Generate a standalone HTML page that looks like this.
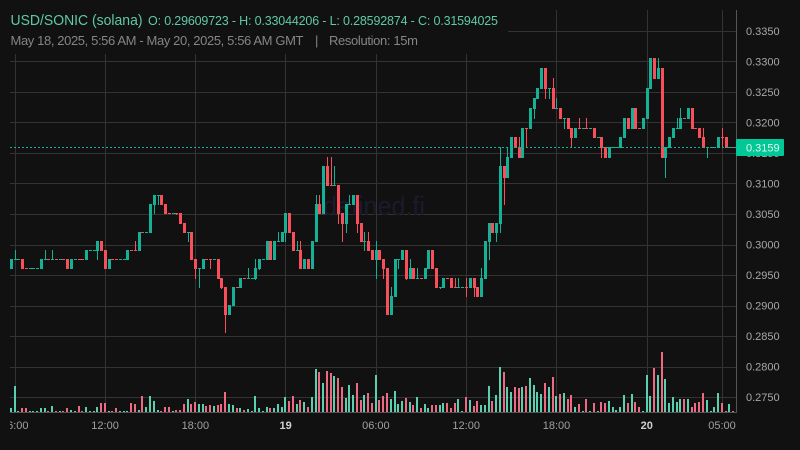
<!DOCTYPE html>
<html>
<head>
<meta charset="utf-8">
<title>USD/SONIC chart</title>
<style>
html,body{margin:0;padding:0;background:#111;width:800px;height:450px;overflow:hidden}
svg{display:block}
text{font-family:"Liberation Sans","Noto Sans CJK JP",sans-serif}
</style>
</head>
<body>
<svg id="chart" width="800" height="450" viewBox="0 0 800 450" xmlns="http://www.w3.org/2000/svg">
<defs><clipPath id="plotClip"><rect x="10" y="0" width="727" height="450"/></clipPath></defs>
<rect x="0" y="0" width="800" height="450" fill="#111111"/>
<g id="grid"></g>
<text x="323" y="215" font-size="27" fill="#1c1b2e" textLength="102" lengthAdjust="spacingAndGlyphs">defined.fi</text>
<g id="volumeBars"></g>
<g id="candles"></g>
<g id="priceLine"></g>
<rect x="0" y="0" width="508" height="54" fill="#111111"/>
<text x="10.5" y="25" font-size="15" fill="#5fc9a9" textLength="132" lengthAdjust="spacingAndGlyphs">USD/SONIC (solana)</text>
<text x="148" y="25" font-size="12.5" fill="#5fc9a9" textLength="350" lengthAdjust="spacing">O: 0.29609723 - H: 0.33044206 - L: 0.28592874 - C: 0.31594025</text>
<text x="10.5" y="45" font-size="13" fill="#858585" textLength="293" lengthAdjust="spacing">May 18, 2025, 5:56 AM - May 20, 2025, 5:56 AM GMT</text>
<text x="315" y="45" font-size="13" fill="#858585">|</text>
<text x="329" y="45" font-size="13" fill="#858585" textLength="89" lengthAdjust="spacing">Resolution: 15m</text>
<g id="yAxis"></g>
<g id="xAxis" clip-path="url(#plotClip)"></g>
<g id="priceTag"></g>
</svg>
<script>
const priceTicks = [0.335,0.33,0.325,0.32,0.315,0.31,0.305,0.3,0.295,0.29,0.285,0.28,0.275];
const timeTickLabels = ["06:00","12:00","18:00","19","06:00","12:00","18:00","20","05:00"];
const timeTickCandles = [1,25,49,73,97,121,145,169,189];
const timeTickBold = [false,false,false,true,false,false,false,true,false];
const lastPrice = 0.31594;
const opens = [.29616,.29764,.29764,.29764,.29616,.29616,.29616,.29616,.29616,.29764,
.29764,.29764,.29764,.29764,.29764,.29764,.29616,.29764,.29764,.29764,
.29764,.29912,.29912,.29912,.30059,.29912,.29616,.29764,.29764,.29764,
.29764,.29764,.29912,.29912,.29912,.30206,.30206,.30206,.30664,.30811,
.30811,.30664,.30517,.30517,.30517,.30517,.30353,.30206,.30206,.29764,
.29616,.29616,.29764,.29764,.29764,.29764,.29453,.29305,.28864,.29011,
.29305,.29305,.29453,.29453,.29453,.29453,.29616,.29764,.29764,.30059,
.29764,.30059,.30059,.30206,.30517,.30206,.29912,.29912,.29616,.29764,
.29616,.30059,.30664,.30517,.31286,.30975,.30975,.30975,.30517,.30353,
.30664,.30664,.30811,.30353,.30059,.30059,.29912,.29764,.29912,.29764,
.29616,.28864,.29158,.29764,.29764,.29912,.29453,.29616,.29453,.29453,
.29453,.29616,.29912,.29616,.29305,.29305,.29453,.29453,.29305,.29305,
.29305,.29305,.29305,.29453,.29305,.29158,.29453,.30059,.30353,.30206,
.30353,.31286,.31106,.31434,.31761,.31597,.31434,.31908,.31908,.32236,
.32399,.32563,.32890,.32563,.32563,.32236,.32236,.32072,.32072,.31908,
.31761,.31908,.31908,.31908,.31908,.31908,.31761,.31761,.31597,.31434,
.31597,.31597,.31597,.31761,.32072,.31908,.32236,.31908,.31908,.32072,
.32563,.33054,.32727,.32890,.31434,.31597,.31761,.31908,.31908,.32072,
.32072,.32236,.31908,.31908,.31761,.31597,.31597,.31597,.31597,.31761,
.31761,.31597,.31597];
const closes = [.29764,.29764,.29764,.29616,.29615,.29616,.29616,.29616,.29764,.29764,
.29763,.29764,.29763,.29764,.29763,.29616,.29764,.29764,.29763,.29763,
.29912,.29912,.29912,.30059,.29912,.29616,.29764,.29763,.29763,.29764,
.29764,.29912,.29911,.29911,.30206,.30205,.30206,.30664,.30811,.30811,
.30664,.30517,.30516,.30517,.30516,.30353,.30206,.30206,.29764,.29616,
.29616,.29764,.29763,.29763,.29764,.29453,.29305,.28864,.29011,.29305,
.29304,.29453,.29452,.29453,.29453,.29616,.29764,.29764,.30059,.29764,
.30059,.30059,.30206,.30517,.30206,.29912,.29912,.29616,.29764,.29616,
.30059,.30664,.30517,.31286,.30975,.30974,.30975,.30517,.30353,.30664,
.30664,.30811,.30353,.30059,.30059,.29912,.29764,.29912,.29764,.29616,
.28864,.29158,.29764,.29764,.29912,.29453,.29616,.29453,.29453,.29452,
.29616,.29912,.29616,.29305,.29305,.29453,.29452,.29305,.29304,.29305,
.29305,.29304,.29453,.29305,.29158,.29453,.30059,.30353,.30206,.30353,
.31286,.31106,.31434,.31761,.31597,.31434,.31908,.31907,.32236,.32399,
.32563,.32890,.32563,.32563,.32236,.32236,.32072,.32072,.31908,.31761,
.31908,.31907,.31908,.31907,.31908,.31761,.31761,.31597,.31434,.31597,
.31597,.31597,.31761,.32072,.31908,.32236,.31908,.31907,.32072,.32563,
.33054,.32727,.32890,.31434,.31597,.31761,.31908,.31908,.32072,.32071,
.32236,.31908,.31907,.31761,.31597,.31597,.31597,.31597,.31761,.31760,
.31597,.31597,.31594];
const highs = [.29764,.29912,.29764,.29764,.29616,.29616,.29616,.29616,.29764,.29912,
.29764,.29912,.29764,.29764,.29764,.29764,.29764,.29764,.29764,.29764,
.29912,.29912,.29912,.30059,.30059,.29912,.29764,.29764,.29764,.29764,
.29764,.29912,.29912,.30059,.30206,.30206,.30206,.30664,.30811,.30811,
.30811,.30664,.30517,.30517,.30517,.30517,.30353,.30206,.30206,.29764,
.29616,.29764,.29764,.29764,.29764,.29764,.29453,.29305,.29011,.29305,
.29305,.29453,.29453,.29616,.29453,.29764,.29764,.29764,.30059,.30059,
.30059,.30206,.30206,.30517,.30517,.30206,.30059,.30059,.29764,.29764,
.30059,.30811,.30811,.31286,.31434,.31434,.31286,.30975,.30517,.30664,
.30811,.30811,.30811,.30353,.30206,.30206,.29912,.30059,.29912,.29764,
.29616,.29305,.29764,.29764,.29912,.29912,.29764,.29616,.29616,.29453,
.29616,.29912,.29912,.29616,.29305,.29453,.29453,.29453,.29453,.29453,
.29305,.29453,.29453,.29453,.29305,.29616,.30059,.30353,.30353,.30353,
.31597,.31286,.31597,.31761,.31761,.31761,.31908,.31908,.32236,.32399,
.32563,.32890,.32890,.32563,.32727,.32399,.32236,.32072,.32072,.31908,
.31908,.32072,.31908,.32072,.31908,.31908,.31761,.31761,.31597,.31597,
.31597,.31597,.31761,.32072,.32072,.32236,.32236,.31908,.32072,.32563,
.33054,.33054,.33054,.32890,.31597,.31761,.31908,.32072,.32236,.32072,
.32236,.32236,.31908,.31908,.31908,.31597,.31597,.31597,.31761,.31908,
.31761,.31597,.31597];
const lows = [.29616,.29764,.29764,.29616,.29615,.29616,.29616,.29616,.29616,.29764,
.29763,.29764,.29763,.29764,.29763,.29616,.29616,.29764,.29763,.29763,
.29764,.29912,.29912,.29764,.29912,.29616,.29616,.29763,.29763,.29764,
.29764,.29764,.29911,.29911,.29912,.30205,.30206,.30206,.30517,.30664,
.30664,.30517,.30516,.30517,.30500,.30353,.30206,.30059,.29764,.29453,
.29305,.29616,.29763,.29616,.29764,.29453,.29290,.28569,.28864,.29011,
.29304,.29305,.29452,.29453,.29453,.29440,.29600,.29764,.29764,.29764,
.29764,.30059,.30059,.30059,.30206,.29912,.29912,.29616,.29616,.29616,
.29616,.30059,.30517,.30517,.30975,.30974,.30975,.30353,.30059,.30206,
.30664,.30664,.30206,.30059,.29912,.29912,.29764,.29453,.29764,.29453,
.28864,.28864,.29158,.29616,.29764,.29440,.29453,.29453,.29453,.29452,
.29453,.29616,.29616,.29305,.29290,.29305,.29452,.29305,.29304,.29305,
.29305,.29158,.29305,.29158,.29158,.29158,.29453,.29764,.30206,.30059,
.30206,.30664,.31106,.31434,.31597,.31434,.31434,.31597,.31908,.32072,
.32399,.32563,.32399,.32399,.32236,.32236,.32072,.31908,.31908,.31597,
.31761,.31907,.31908,.31907,.31908,.31761,.31761,.31434,.31434,.31434,
.31597,.31597,.31597,.31761,.31908,.31908,.31908,.31907,.31908,.32072,
.32563,.32727,.32727,.31434,.31106,.31597,.31761,.31908,.31908,.32071,
.32072,.31908,.31907,.31761,.31597,.31434,.31597,.31597,.31597,.31597,
.31597,.31597,.31594];
const volumes = [4,26,1,4,4,1,1,1,4,4,
1,6,1,1,1,4,2,1,6,1,
5,1,1,5,9,9,1,1,4,1,
1,1,9,8,2,16,5,16,11,2,
1,5,5,1,2,2,8,13,8,10,
8,8,6,7,6,7,8,20,8,7,
4,4,2,3,1,16,4,1,5,4,
4,8,5,15,11,16,8,12,10,5,
15,43,40,29,41,39,36,34,25,14,
27,17,29,12,17,19,9,37,12,16,
19,13,21,8,11,14,10,7,15,4,
8,4,7,7,7,9,9,4,9,13,
1,15,12,6,11,7,7,26,11,17,
45,40,25,20,25,24,25,26,34,27,
20,18,29,25,35,16,18,19,13,17,
5,8,1,13,1,9,1,10,9,11,
5,2,5,17,9,18,10,5,1,37,
16,44,37,60,33,9,15,10,13,13,
13,5,9,10,19,12,1,5,19,9,
1,8,1];

const SVGNS = "http://www.w3.org/2000/svg";
const UP = "#14b196", DOWN = "#f94f5a", VOL_UP = "#5ccfb0", VOL_DOWN = "#ee6a82";
const GRID = "#333333", AXIS = "#555555";
const PLOT_L = 10, PLOT_R = 736, PLOT_T = 10, PLOT_B = 412;
function xScale(i){ return 11.3 + 3.762 * i; }
function yScale(p){ return 61.3 + (0.33 - p) * 6108; }
function volHeight(v){ return Math.max(1, Math.round(v)); }
function el(tag, parent, attrs){
  const e = document.createElementNS(SVGNS, tag);
  for (const k in attrs) e.setAttribute(k, attrs[k]);
  parent.appendChild(e);
  return e;
}
const gridG = document.getElementById("grid");
priceTicks.forEach(function(p){
  const y = Math.round(yScale(p));
  const line = el("rect", gridG, {x: PLOT_L, y: y, width: PLOT_R - PLOT_L, height: 1, fill: GRID});
  
  
});
timeTickCandles.forEach(function(c){
  const x = Math.floor(xScale(c));
  const line = el("rect", gridG, {x: x, y: PLOT_T, width: 1, height: PLOT_B - PLOT_T, fill: GRID});
  
  
});
const volG = document.getElementById("volumeBars");
volumes.forEach(function(v, i){
  const h = volHeight(v);
  const up = closes[i] >= opens[i];
  const bar = el("rect", volG, {x: Math.floor(xScale(i) - 1), y: PLOT_B - h, width: 2, height: h, fill: up ? VOL_UP : VOL_DOWN});
  
  
});
const candleG = document.getElementById("candles");
opens.forEach(function(o, i){
  const c = closes[i];
  const up = c >= o;
  const col = up ? UP : DOWN;
  const xc = xScale(i);
  const wy1 = Math.round(yScale(highs[i]));
  const wy2 = Math.round(yScale(lows[i])) + 1;
  if (wy2 - wy1 > 1) {
    const wick = el("rect", candleG, {x: Math.floor(xc), y: wy1, width: 1, height: wy2 - wy1, fill: col});
    
    
  }
  const by1 = Math.round(yScale(Math.max(o, c)));
  const by2 = Math.round(yScale(Math.min(o, c))) + 1;
  const body = el("rect", candleG, {x: Math.round(xc - 1.5), y: by1, width: 3, height: Math.max(1, by2 - by1), fill: col});
  
  
});
const pl = document.getElementById("priceLine");
const lastY = Math.round(yScale(lastPrice));
const dash = el("line", pl, {x1: PLOT_L, x2: PLOT_R, y1: lastY + 0.5, y2: lastY + 0.5, stroke: UP, "stroke-width": 1, "stroke-dasharray": "2 2"});


const yG = document.getElementById("yAxis");
const yLine = el("rect", yG, {x: PLOT_R, y: PLOT_T, width: 1, height: PLOT_B - PLOT_T, fill: AXIS});


priceTicks.forEach(function(p){
  const t = el("text", yG, {x: 746, y: yScale(p) + 4, "font-size": 11, fill: "#a8a8a8"});
  
  
  t.textContent = p.toFixed(4);
});
const xG = document.getElementById("xAxis");
const xLine = el("rect", xG, {x: PLOT_L, y: PLOT_B, width: PLOT_R - PLOT_L + 1, height: 1, fill: AXIS});


timeTickLabels.forEach(function(lab, i){
  const t = el("text", xG, {x: xScale(timeTickCandles[i]) - 0.3, y: 429, "font-size": 11, "text-anchor": "middle", fill: timeTickBold[i] ? "#d0d0d0" : "#a0a0a0", "font-weight": timeTickBold[i] ? "bold" : "normal"});
  
  
  t.textContent = lab;
});
const tagG = document.getElementById("priceTag");
const tag = el("rect", tagG, {x: 736, y: lastY - 8, width: 48, height: 17, rx: 1, fill: "#00c896"});


const tagText = el("text", tagG, {x: 746, y: lastY + 4.5, "font-size": 11, fill: "#e6f7f1"});


tagText.textContent = lastPrice.toFixed(4);
</script>
</body>
</html>
